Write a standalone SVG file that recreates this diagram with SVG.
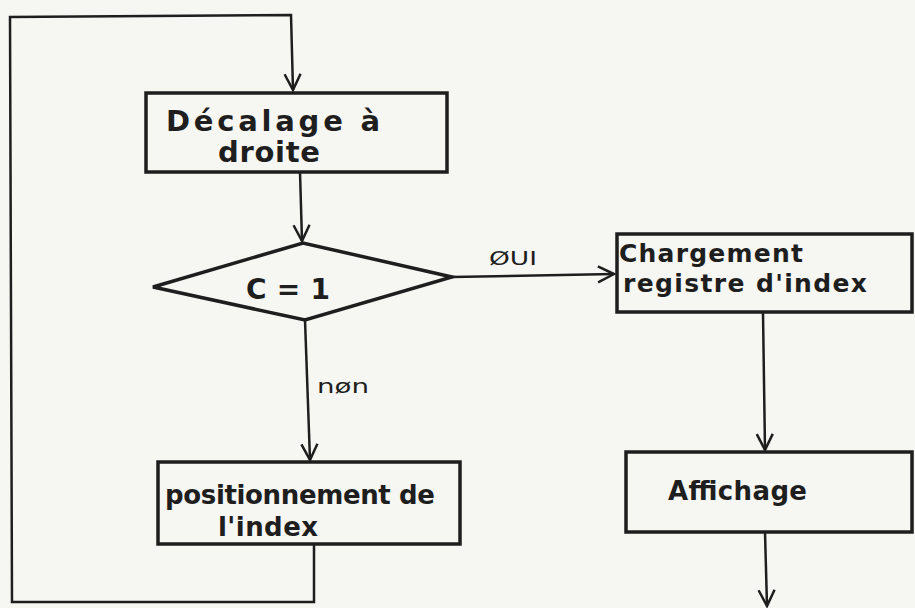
<svg xmlns="http://www.w3.org/2000/svg" width="915" height="608" viewBox="0 0 915 608">
<style>
.box{fill:none;stroke:#1e1e1e;stroke-width:3.5}
.ln{fill:none;stroke:#1e1e1e;stroke-width:2.5}
.t{font-family:"DejaVu Sans",sans-serif;font-weight:bold;fill:#1e1e1e;font-size:26px}
.lb{font-family:"DejaVu Sans",sans-serif;fill:#1e1e1e;font-size:20px}
</style>
<defs>
<marker id="arr" markerWidth="20" markerHeight="20" refX="18" refY="10" orient="auto" markerUnits="userSpaceOnUse">
<path d="M2,2 L18,10 L2,18" fill="none" stroke="#1e1e1e" stroke-width="2.5"/>
</marker>
</defs>
<rect width="915" height="608" fill="#f6f6f3"/>
<g id="connectors">
<polyline class="ln" points="314,545 314,602 12,602 10,17 291,15 293,90" marker-end="url(#arr)"/>
<line class="ln" x1="300" y1="172" x2="302" y2="241" marker-end="url(#arr)"/>
<line class="ln" x1="452" y1="277" x2="614" y2="274" marker-end="url(#arr)"/>
<text class="lb" x="489" y="265" textLength="48" lengthAdjust="spacingAndGlyphs">ØUI</text>
<line class="ln" x1="305" y1="320" x2="310" y2="460" marker-end="url(#arr)"/>
<text class="lb" x="317" y="393" textLength="52" lengthAdjust="spacingAndGlyphs">nøn</text>
<line class="ln" x1="763" y1="313" x2="765" y2="450" marker-end="url(#arr)"/>
<line class="ln" x1="765" y1="532" x2="767" y2="606" marker-end="url(#arr)"/>
</g>
<g id="decalage">
<rect class="box" x="146" y="93" width="301" height="79"/>
<text class="t" x="166" y="131" style="font-size:29px" textLength="214" lengthAdjust="spacing">Décalage   à</text>
<text class="t" x="218" y="162" style="font-size:29px" textLength="102" lengthAdjust="spacing">droite</text>
</g>
<g id="test">
<polygon class="box" points="153,287 303,243 452,277 305,320"/>
<text class="t" x="246" y="299" style="font-size:28px" textLength="84" lengthAdjust="spacing">C = 1</text>
</g>
<g id="chargement">
<rect class="box" x="617" y="234" width="295" height="78"/>
<text class="t" x="619" y="262" style="font-size:25px" textLength="184" lengthAdjust="spacing">Chargement</text>
<text class="t" x="623" y="292" style="font-size:25px" textLength="244" lengthAdjust="spacing">registre  d'index</text>
</g>
<g id="affichage">
<rect class="box" x="626" y="452" width="286" height="80"/>
<text class="t" x="668" y="500" textLength="139" lengthAdjust="spacing">Affichage</text>
</g>
<g id="positionnement">
<rect class="box" x="158" y="462" width="302" height="82"/>
<text class="t" x="165" y="504" textLength="270" lengthAdjust="spacing">positionnement de</text>
<text class="t" x="218" y="536" textLength="100" lengthAdjust="spacing">l'index</text>
</g>
</svg>
